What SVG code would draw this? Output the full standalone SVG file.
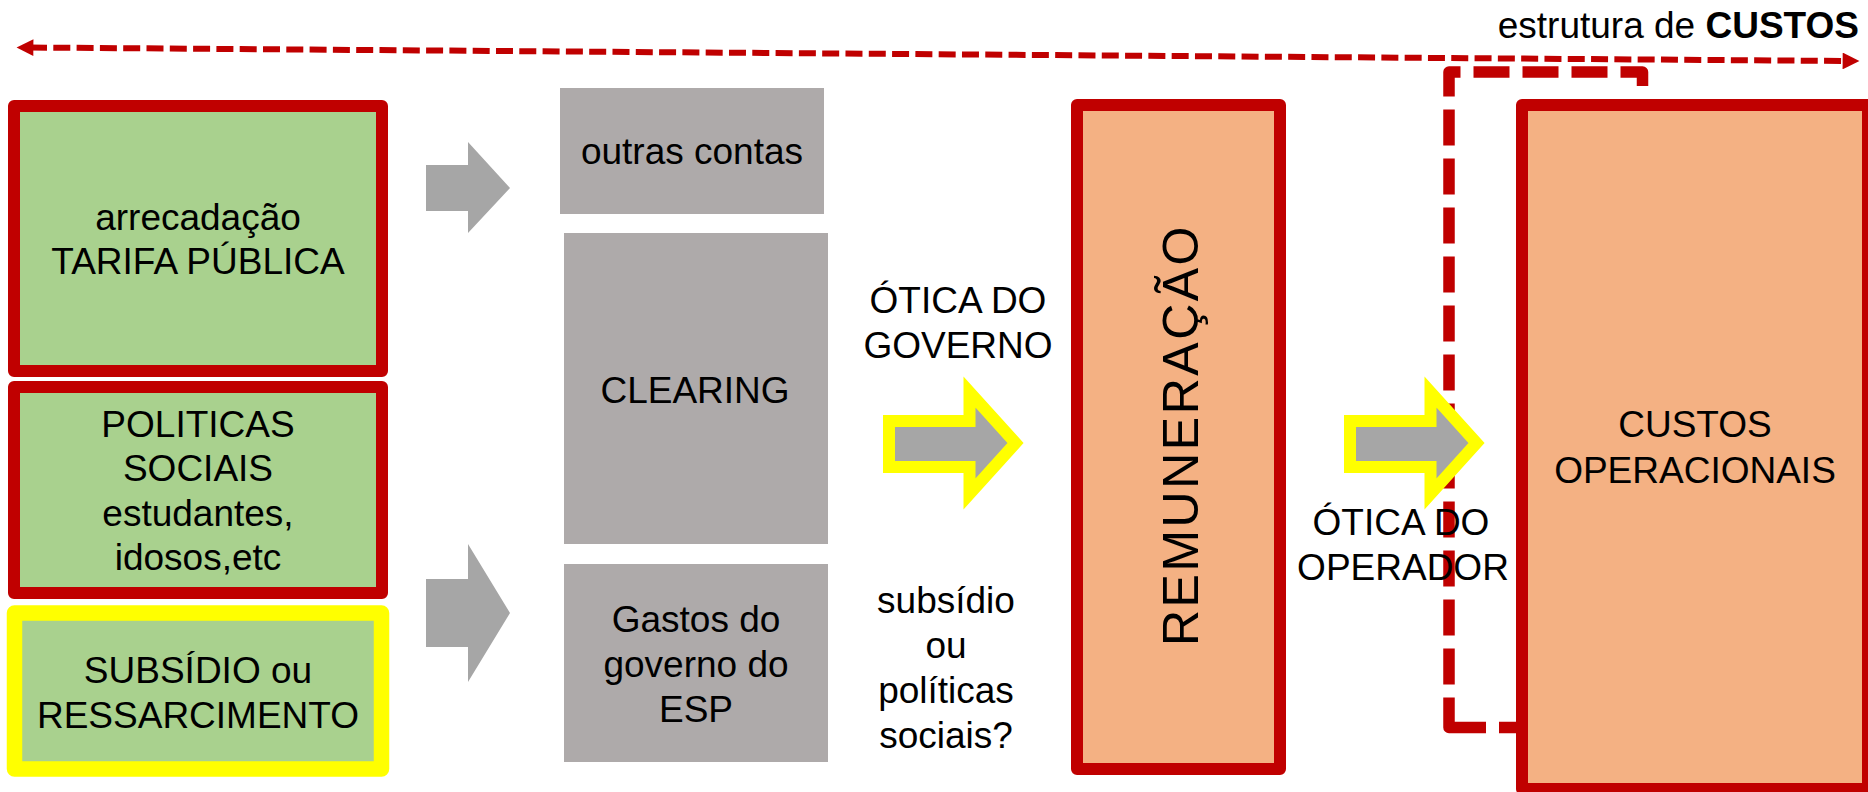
<svg xmlns="http://www.w3.org/2000/svg" width="1868" height="792" viewBox="0 0 1868 792">
<defs>
<style>
text{font-family:"Liberation Sans",Arial,sans-serif;font-size:37px;fill:#000;text-anchor:middle}
.red{stroke:#c00000;stroke-width:12;stroke-linejoin:round}
.green{fill:#a9d18e}
.orange{fill:#f4b183}
.gbox{fill:#aeaaaa}
.garrow{fill:#a6a6a6}
.yarrow{fill:#a6a6a6;stroke:#ffff00;stroke-width:12;stroke-linejoin:miter;stroke-miterlimit:10}
.dash{fill:none;stroke:#c00000}
</style>
<marker id="ah" viewBox="0 0 10 10" refX="2" refY="5" markerWidth="3.2" markerHeight="2.8" orient="auto-start-reverse" markerUnits="strokeWidth">
<path d="M0,0 L10,5 L0,10 Z" fill="#c00000"/>
</marker>
<polygon id="yarr" points="889,421 969.5,421 969.5,392 1015.5,443 969.5,494 969.5,467 889,467"/>
</defs>
<rect width="1868" height="792" fill="#fff"/>

<g id="title">
<text x="1859" y="38" style="text-anchor:end">estrutura de <tspan font-weight="bold">CUSTOS</tspan></text>
</g>

<g id="dashed-bracket">
<path class="dash" d="M1642.5,86 L1642.5,72 L1449,72 L1449,698" stroke-width="11.5" stroke-dasharray="36 13" stroke-linejoin="round"/>
<path class="dash" d="M1449,698 L1449,727.5 L1486,727.5 M1499,727.5 L1516,727.5" stroke-width="11.5" stroke-linejoin="round"/>
</g>

<g id="arrecadacao">
<rect class="green red" x="14" y="106" width="368" height="265"/>
<text x="198" y="230">arrecadação</text>
<text x="198" y="274">TARIFA PÚBLICA</text>
</g>

<g id="politicas">
<rect class="green red" x="14" y="387" width="368" height="206"/>
<text x="198" y="437">POLITICAS</text>
<text x="198" y="481">SOCIAIS</text>
<text x="198" y="526">estudantes,</text>
<text x="198" y="570">idosos,etc</text>
</g>

<g id="subsidio">
<rect class="green" x="14.5" y="613" width="367" height="156" stroke="#ffff00" stroke-width="15.5" stroke-linejoin="round"/>
<text x="198" y="683">SUBSÍDIO ou</text>
<text x="198" y="728">RESSARCIMENTO</text>
</g>

<g id="outras">
<rect class="gbox" x="560" y="88" width="264" height="126"/>
<text x="692" y="164">outras contas</text>
</g>

<g id="clearing">
<rect class="gbox" x="564" y="233" width="264" height="311"/>
<text x="695" y="403">CLEARING</text>
</g>

<g id="gastos">
<rect class="gbox" x="564" y="564" width="264" height="198"/>
<text x="696" y="632">Gastos do</text>
<text x="696" y="677">governo do</text>
<text x="696" y="722">ESP</text>
</g>

<g id="otica-governo">
<text x="958" y="313">ÓTICA DO</text>
<text x="958" y="358">GOVERNO</text>
</g>

<g id="subsidio-label">
<text x="946" y="613">subsídio</text>
<text x="946" y="658">ou</text>
<text x="946" y="703">políticas</text>
<text x="946" y="748">sociais?</text>
</g>

<g id="remuneracao">
<rect class="orange red" x="1077" y="105" width="203" height="664"/>
<text transform="translate(1198,435) rotate(-90)" style="font-size:50px;letter-spacing:2.5px">REMUNERAÇÃO</text>
</g>

<g id="custos">
<rect class="orange red" x="1522" y="105" width="346" height="684"/>
<text x="1695" y="437">CUSTOS</text>
<text x="1695" y="483">OPERACIONAIS</text>
</g>

<g id="connectors">
<line x1="30" y1="47.5" x2="1846" y2="61" class="dash" stroke-width="6" stroke-dasharray="17 6.3" marker-start="url(#ah)" marker-end="url(#ah)"/>
<polygon class="garrow" points="426,165 468,165 468,142 510,188 468,233 468,211 426,211"/>
<polygon class="garrow" points="426,579 468,579 468,544 510,613 468,682 468,647 426,647"/>
<use href="#yarr" class="yarrow"/>
<use href="#yarr" class="yarrow" transform="translate(461,0)"/>
</g>

<g id="otica-operador">
<text x="1401" y="535">ÓTICA DO</text>
<text x="1403" y="580">OPERADOR</text>
</g>
</svg>
